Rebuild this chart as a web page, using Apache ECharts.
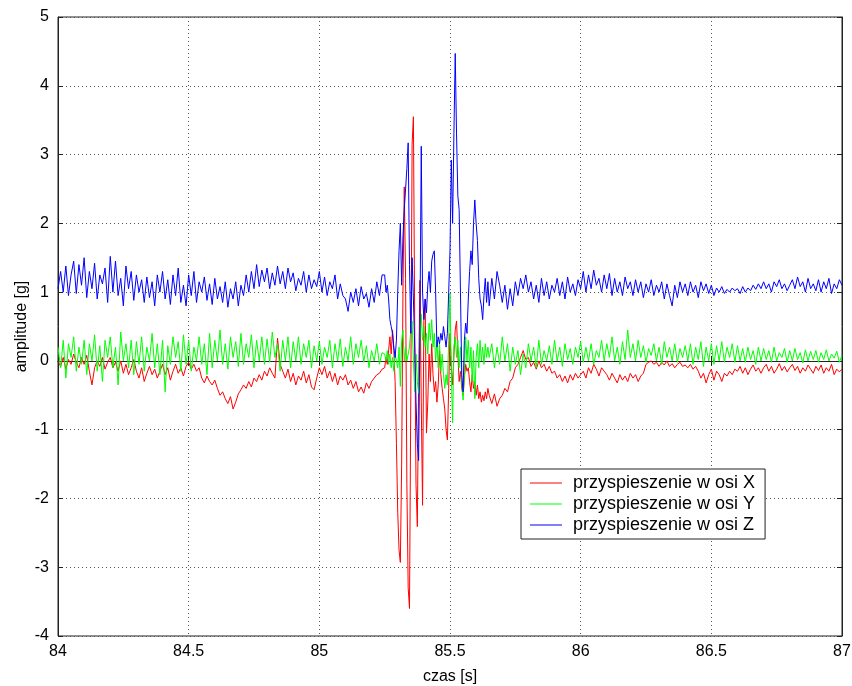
<!DOCTYPE html>
<html>
<head>
<meta charset="utf-8">
<script src="https://cdn.jsdelivr.net/npm/echarts@6/dist/echarts.min.js"></script>
<style>
  html, body { margin: 0; padding: 0; background: #fff; }
  #main { width: 852px; height: 686px; }
</style>
</head>
<body>
<div id="main"></div>
<script>
// przed impulsem: 84.00 .. 85.24, krok 0.01 s
const startA = 84.0, stepA = 0.01;
const xA = [
  0.00,-0.08,0.05,-0.12,0.02,-0.05,0.10,-0.02,-0.10,0.05,
  -0.05,0.08,-0.15,-0.35,-0.10,0.00,-0.08,0.05,-0.12,-0.02,
  0.05,-0.10,-0.02,-0.15,0.00,-0.18,-0.05,-0.20,-0.10,0.02,
  -0.15,-0.25,-0.10,-0.30,-0.18,-0.08,-0.20,-0.12,-0.25,-0.15,
  -0.05,-0.20,-0.10,-0.28,-0.15,-0.05,-0.18,-0.10,-0.22,-0.08,
  -0.02,-0.12,-0.05,-0.15,-0.10,-0.25,-0.32,-0.22,-0.30,-0.35,
  -0.28,-0.40,-0.50,-0.45,-0.55,-0.62,-0.52,-0.70,-0.60,-0.48,
  -0.42,-0.35,-0.40,-0.30,-0.38,-0.25,-0.30,-0.20,-0.28,-0.15,
  -0.22,-0.10,-0.18,-0.25,0.33,-0.05,-0.15,-0.25,-0.12,-0.30,
  -0.18,-0.35,-0.22,-0.28,-0.15,-0.32,-0.20,-0.38,-0.42,-0.25,
  -0.10,-0.20,-0.08,-0.25,-0.15,-0.30,-0.18,-0.35,-0.22,-0.28,
  -0.20,-0.35,-0.28,-0.40,-0.30,-0.45,-0.38,-0.47,-0.32,-0.40,
  -0.30,-0.25,-0.20,-0.18,-0.12
];
const yA = [
  0.20,-0.10,0.30,-0.25,0.25,0.05,0.35,-0.15,0.20,-0.05,
  0.30,-0.20,0.25,0.00,0.38,-0.15,0.22,-0.30,0.30,0.05,
  0.35,-0.10,0.20,-0.35,0.42,0.00,0.25,-0.10,0.30,-0.20,
  0.28,-0.05,0.35,-0.15,0.20,0.00,0.40,-0.10,0.25,-0.20,
  0.30,-0.45,0.22,-0.05,0.35,0.05,0.28,-0.15,0.38,-0.05,
  0.30,-0.15,0.20,0.00,0.35,-0.05,0.25,-0.20,0.40,-0.10,
  0.30,0.00,0.45,-0.05,0.25,-0.12,0.35,0.05,0.28,-0.08,
  0.40,-0.05,0.25,0.05,0.38,-0.10,0.30,0.00,0.35,-0.05,
  0.32,-0.02,0.42,0.05,0.25,-0.15,0.30,0.00,0.35,-0.10,
  0.28,0.00,0.35,-0.05,0.25,0.05,0.30,-0.10,0.22,0.00,
  0.28,-0.05,0.20,0.05,0.30,-0.10,0.25,0.00,0.32,-0.08,
  0.20,0.00,0.35,-0.05,0.25,0.05,0.30,-0.02,0.22,-0.10,
  0.15,0.00,0.25,-0.05,0.12
];
const zA = [
  1.05,1.30,1.00,1.38,0.95,1.25,1.45,0.98,1.40,1.10,
  1.50,0.92,1.30,1.05,1.42,0.90,1.25,1.12,1.35,0.85,
  1.52,1.00,1.45,0.95,1.20,0.80,1.38,1.05,1.30,0.88,
  1.25,1.00,1.18,0.85,1.22,0.92,1.15,0.80,1.25,1.00,
  1.30,0.90,1.18,0.82,1.25,0.95,1.35,0.85,1.10,0.80,
  1.25,0.95,1.30,0.85,1.15,1.00,1.22,0.88,1.12,0.82,
  1.20,0.90,1.08,0.85,1.15,0.78,1.05,0.90,1.15,0.80,
  1.10,0.95,1.25,1.00,1.30,1.05,1.40,1.08,1.32,1.15,
  1.35,1.05,1.28,1.10,1.38,1.12,1.30,1.05,1.35,1.15,
  1.28,1.02,1.20,1.10,1.30,1.00,1.25,1.05,1.18,1.08,
  1.30,1.00,1.22,0.95,1.15,1.05,1.25,0.90,1.12,0.95,
  0.90,0.72,1.00,0.85,1.05,0.80,1.08,0.90,0.98,0.78,
  1.05,0.85,1.15,0.95,1.25
];

// impuls: 85.250 .. 85.645, krok 0.005 s
const startB = 85.25, stepB = 0.005;
const xB = [
  -0.10,0.05,-0.05,0.15,0.35,0.10,0.45,0.15,-0.30,-1.20,
  -2.20,-2.75,-2.93,-1.50,1.00,2.53,1.20,-1.80,-3.30,-3.60,
  -0.50,3.15,3.55,0.50,-1.80,-2.41,-0.30,1.17,-0.60,-2.10,
  0.60,0.90,-1.05,-0.60,0.10,-0.30,0.25,-0.20,-0.45,-0.30,
  -0.60,-0.35,0.15,-0.20,-0.40,-0.55,-0.70,-1.00,-1.15,-0.40,
  0.40,-0.10,-0.35,0.10,0.45,0.58,0.10,-0.30,-0.15,-0.40,
  -0.50,-0.25,-0.05,-0.15,-0.10,-0.30,-0.45,-0.20,-0.40,-0.30,
  -0.50,-0.35,-0.55,-0.45,-0.60,-0.50,-0.58,-0.45,-0.55,-0.40
];
const yB = [
  0.10,0.00,0.15,-0.05,0.10,-0.10,0.05,-0.15,0.10,0.00,
  -0.10,0.20,-0.37,0.30,0.45,0.00,0.20,0.00,0.10,0.20,
  0.45,0.58,0.00,-0.45,0.10,-0.30,-0.47,0.30,0.68,0.30,
  0.50,0.20,0.40,0.10,0.55,0.30,0.60,0.20,0.40,0.00,
  0.30,-0.10,0.25,-0.15,0.10,-0.20,-0.40,-0.20,-0.35,0.30,
  0.98,-0.20,-0.90,0.20,0.35,0.05,0.30,-0.10,0.20,-0.30,
  -0.57,-0.20,0.35,0.00,0.30,-0.10,0.20,-0.30,0.15,-0.55,
  0.05,0.25,-0.10,0.30,0.00,0.20,-0.05,0.25,0.05,0.20
];
const zB = [
  1.25,1.00,1.10,0.90,0.60,0.50,0.40,0.20,0.05,0.30,
  1.00,1.60,2.00,1.10,1.80,2.20,2.50,2.80,3.17,1.40,
  0.40,1.50,0.90,0.20,-0.60,-1.20,-1.45,0.50,3.12,1.00,
  0.60,0.90,0.70,1.10,1.30,1.00,1.45,1.55,1.60,1.00,
  0.20,0.35,0.25,0.40,0.30,0.50,0.35,0.20,0.40,1.00,
  1.60,2.92,2.00,3.30,4.47,3.30,2.40,2.20,1.00,-0.20,
  -0.45,0.30,0.55,0.40,0.90,1.30,1.60,1.40,2.00,2.34,
  2.00,1.75,1.20,0.90,0.80,0.60,0.95,1.20,0.85,1.15
];

// po impulsie: 85.65 .. 87.00, krok 0.01 s
const startC = 85.65, stepC = 0.01;
const xC = [
  -0.50,-0.62,-0.48,-0.66,-0.55,
  -0.50,-0.40,-0.45,-0.30,-0.25,-0.10,-0.05,0.05,0.15,0.02,
  0.05,-0.08,-0.02,-0.12,0.00,-0.10,-0.05,-0.15,-0.08,-0.18,
  -0.15,-0.25,-0.20,-0.30,-0.22,-0.32,-0.20,-0.28,-0.18,-0.25,
  -0.20,-0.15,-0.25,-0.10,-0.18,-0.05,-0.12,-0.22,-0.10,-0.15,
  -0.20,-0.28,-0.18,-0.25,-0.32,-0.20,-0.28,-0.22,-0.30,-0.18,
  -0.25,-0.20,-0.30,-0.22,-0.18,-0.05,-0.02,0.00,-0.05,-0.02,
  -0.08,-0.02,-0.06,0.00,-0.08,-0.04,-0.10,-0.05,-0.02,-0.08,
  -0.06,-0.10,-0.05,-0.12,-0.08,-0.15,-0.25,-0.18,-0.32,-0.20,
  -0.12,-0.28,-0.15,-0.20,-0.30,-0.18,-0.22,-0.15,-0.20,-0.12,
  -0.15,-0.08,-0.18,-0.10,-0.20,-0.12,-0.06,-0.15,-0.10,-0.18,
  -0.10,-0.05,-0.15,-0.08,-0.18,-0.12,-0.04,-0.14,-0.08,-0.16,
  -0.10,-0.05,-0.14,-0.08,-0.18,-0.10,-0.15,-0.06,-0.12,-0.18,
  -0.08,-0.14,-0.06,-0.18,-0.10,-0.15,-0.05,-0.20,-0.12,-0.16,
  -0.12
];
const yC = [
  0.05,0.25,-0.10,0.20,-0.05,
  0.35,0.00,0.25,-0.15,0.20,-0.05,0.15,-0.20,0.10,-0.10,
  0.25,0.00,0.20,-0.10,0.30,-0.05,0.15,0.00,0.22,-0.05,
  0.30,0.00,0.20,-0.08,0.25,0.02,0.18,-0.05,0.20,0.05,
  0.28,-0.02,0.20,0.00,0.25,-0.05,0.15,0.05,0.30,0.00,
  0.25,0.05,0.35,0.00,0.20,-0.05,0.28,0.02,0.45,0.05,
  0.25,0.00,0.30,0.05,0.22,-0.02,0.18,0.08,0.25,0.00,
  0.20,-0.05,0.28,0.05,0.20,0.00,0.25,-0.02,0.18,0.05,
  0.22,0.00,0.25,-0.05,0.20,0.02,0.28,-0.08,0.20,0.00,
  0.25,-0.05,0.22,0.00,0.28,-0.02,0.20,0.05,0.25,-0.02,
  0.22,0.00,0.18,-0.02,0.20,0.02,0.15,-0.05,0.20,0.00,
  0.18,0.02,0.15,-0.02,0.20,0.00,0.12,0.05,0.18,-0.02,
  0.15,0.00,0.18,0.02,0.12,-0.03,0.16,0.00,0.14,0.02,
  0.15,-0.02,0.12,0.02,0.16,0.00,0.10,0.04,0.14,-0.02,
  0.08
];
const zC = [
  0.80,1.20,0.90,1.30,1.10,
  0.85,1.10,0.75,1.05,0.80,1.15,0.95,1.20,1.05,1.25,
  1.00,1.15,0.90,1.10,0.85,1.20,0.95,1.15,0.90,1.10,
  1.00,1.20,0.95,1.15,0.90,1.22,1.00,1.12,0.95,1.18,
  1.05,1.30,1.00,1.25,1.05,1.32,1.10,1.20,1.00,1.25,
  1.05,1.27,0.95,1.20,1.00,1.15,0.95,1.22,1.05,1.15,
  0.95,1.18,1.00,1.15,0.92,1.12,1.00,1.18,0.95,1.10,
  1.00,1.15,0.90,1.12,0.95,0.80,1.10,0.92,1.15,1.00,
  1.12,0.95,1.15,1.00,1.10,0.92,1.15,1.02,1.12,0.98,
  1.10,0.95,1.06,1.00,1.08,0.98,1.04,1.00,1.06,1.02,
  1.05,0.98,1.08,1.00,1.06,1.02,1.10,1.04,1.12,1.05,
  1.15,1.05,1.12,1.00,1.15,1.08,1.18,1.05,1.12,1.02,
  1.10,1.18,1.05,1.22,1.08,1.15,1.00,1.20,1.05,1.12,
  1.02,1.18,1.00,1.15,1.05,1.20,0.98,1.12,1.05,1.18,
  1.10
];

const seriesNames = ['przyspieszenie w osi X', 'przyspieszenie w osi Y', 'przyspieszenie w osi Z'];
const seriesColors = ['#ff0000', '#00ff00', '#0000ff'];
const xTicks = [84, 84.5, 85, 85.5, 86, 86.5, 87];
const yTicks = [-4, -3, -2, -1, 0, 1, 2, 3, 4, 5];

function points(start, step, vals) {
  return vals.map((v, i) => [+(start + i * step).toFixed(3), v]);
}
function join(a, b, c) {
  return points(startA, stepA, a).concat(points(startB, stepB, b), points(startC, stepC, c));
}
const dataSets = [join(xA, xB, xC), join(yA, yB, yC), join(zA, zB, zC)];

const font = 'Liberation Sans, Arial, sans-serif';
const gridLine = { show: true, lineStyle: { color: '#555', type: [1, 3], width: 1 } };

let chart = echarts.init(document.getElementById('main'), null, { renderer: 'canvas' });
chart.setOption({
  backgroundColor: '#fff',
  animation: false,
  textStyle: { fontFamily: font },
  grid: {
    left: 58, right: 10, top: 17, bottom: 50,
    outerBoundsMode: 'none',
    show: true, borderColor: '#222', borderWidth: 1
  },
  legend: {
    data: seriesNames,
    orient: 'vertical',
    left: 521, top: 469,
    backgroundColor: '#fff',
    borderColor: '#222', borderWidth: 1,
    padding: [5, 10, 5, 9],
    itemWidth: 32, itemHeight: 1, itemGap: 3,
    icon: 'rect',
    textStyle: { fontSize: 18, color: '#000', fontFamily: font, padding: [0, 0, 0, 6] }
  },
  xAxis: [{
    type: 'value', min: xTicks[0], max: xTicks[xTicks.length - 1], interval: 0.5,
    name: 'czas [s]', nameLocation: 'middle', nameGap: 33, nameMoveOverlap: false,
    nameTextStyle: { fontSize: 16, color: '#000' },
    axisLine: { show: true, lineStyle: { color: '#222' } },
    axisTick: { show: true, inside: true, length: 5, lineStyle: { color: '#222' } },
    axisLabel: { fontSize: 16, color: '#000', margin: 8 },
    splitLine: gridLine
  }, {
    type: 'value', position: 'top', min: xTicks[0], max: xTicks[xTicks.length - 1], interval: 0.5,
    axisLine: { show: true, lineStyle: { color: '#222' } },
    axisTick: { show: true, inside: true, length: 5, lineStyle: { color: '#222' } },
    axisLabel: { show: false }, splitLine: { show: false }
  }],
  yAxis: [{
    type: 'value', min: yTicks[0], max: yTicks[yTicks.length - 1], interval: 1,
    name: 'amplitude [g]', nameLocation: 'middle', nameGap: 28, nameMoveOverlap: false,
    nameTextStyle: { fontSize: 16, color: '#000' },
    axisLine: { show: true, lineStyle: { color: '#222' } },
    axisTick: { show: true, inside: true, length: 5, lineStyle: { color: '#222' } },
    axisLabel: { fontSize: 16, color: '#000', margin: 9 },
    splitLine: gridLine
  }, {
    type: 'value', position: 'right', min: yTicks[0], max: yTicks[yTicks.length - 1], interval: 1,
    axisLine: { show: true, lineStyle: { color: '#222' } },
    axisTick: { show: true, inside: true, length: 5, lineStyle: { color: '#222' } },
    axisLabel: { show: false }, splitLine: { show: false }
  }],
  series: seriesNames.map((name, i) => ({
    name: name,
    type: 'line',
    data: dataSets[i],
    showSymbol: false,
    color: seriesColors[i],
    lineStyle: { width: 1, color: seriesColors[i] },
    emphasis: { disabled: true }
  }))
});
</script>
</body>
</html>
